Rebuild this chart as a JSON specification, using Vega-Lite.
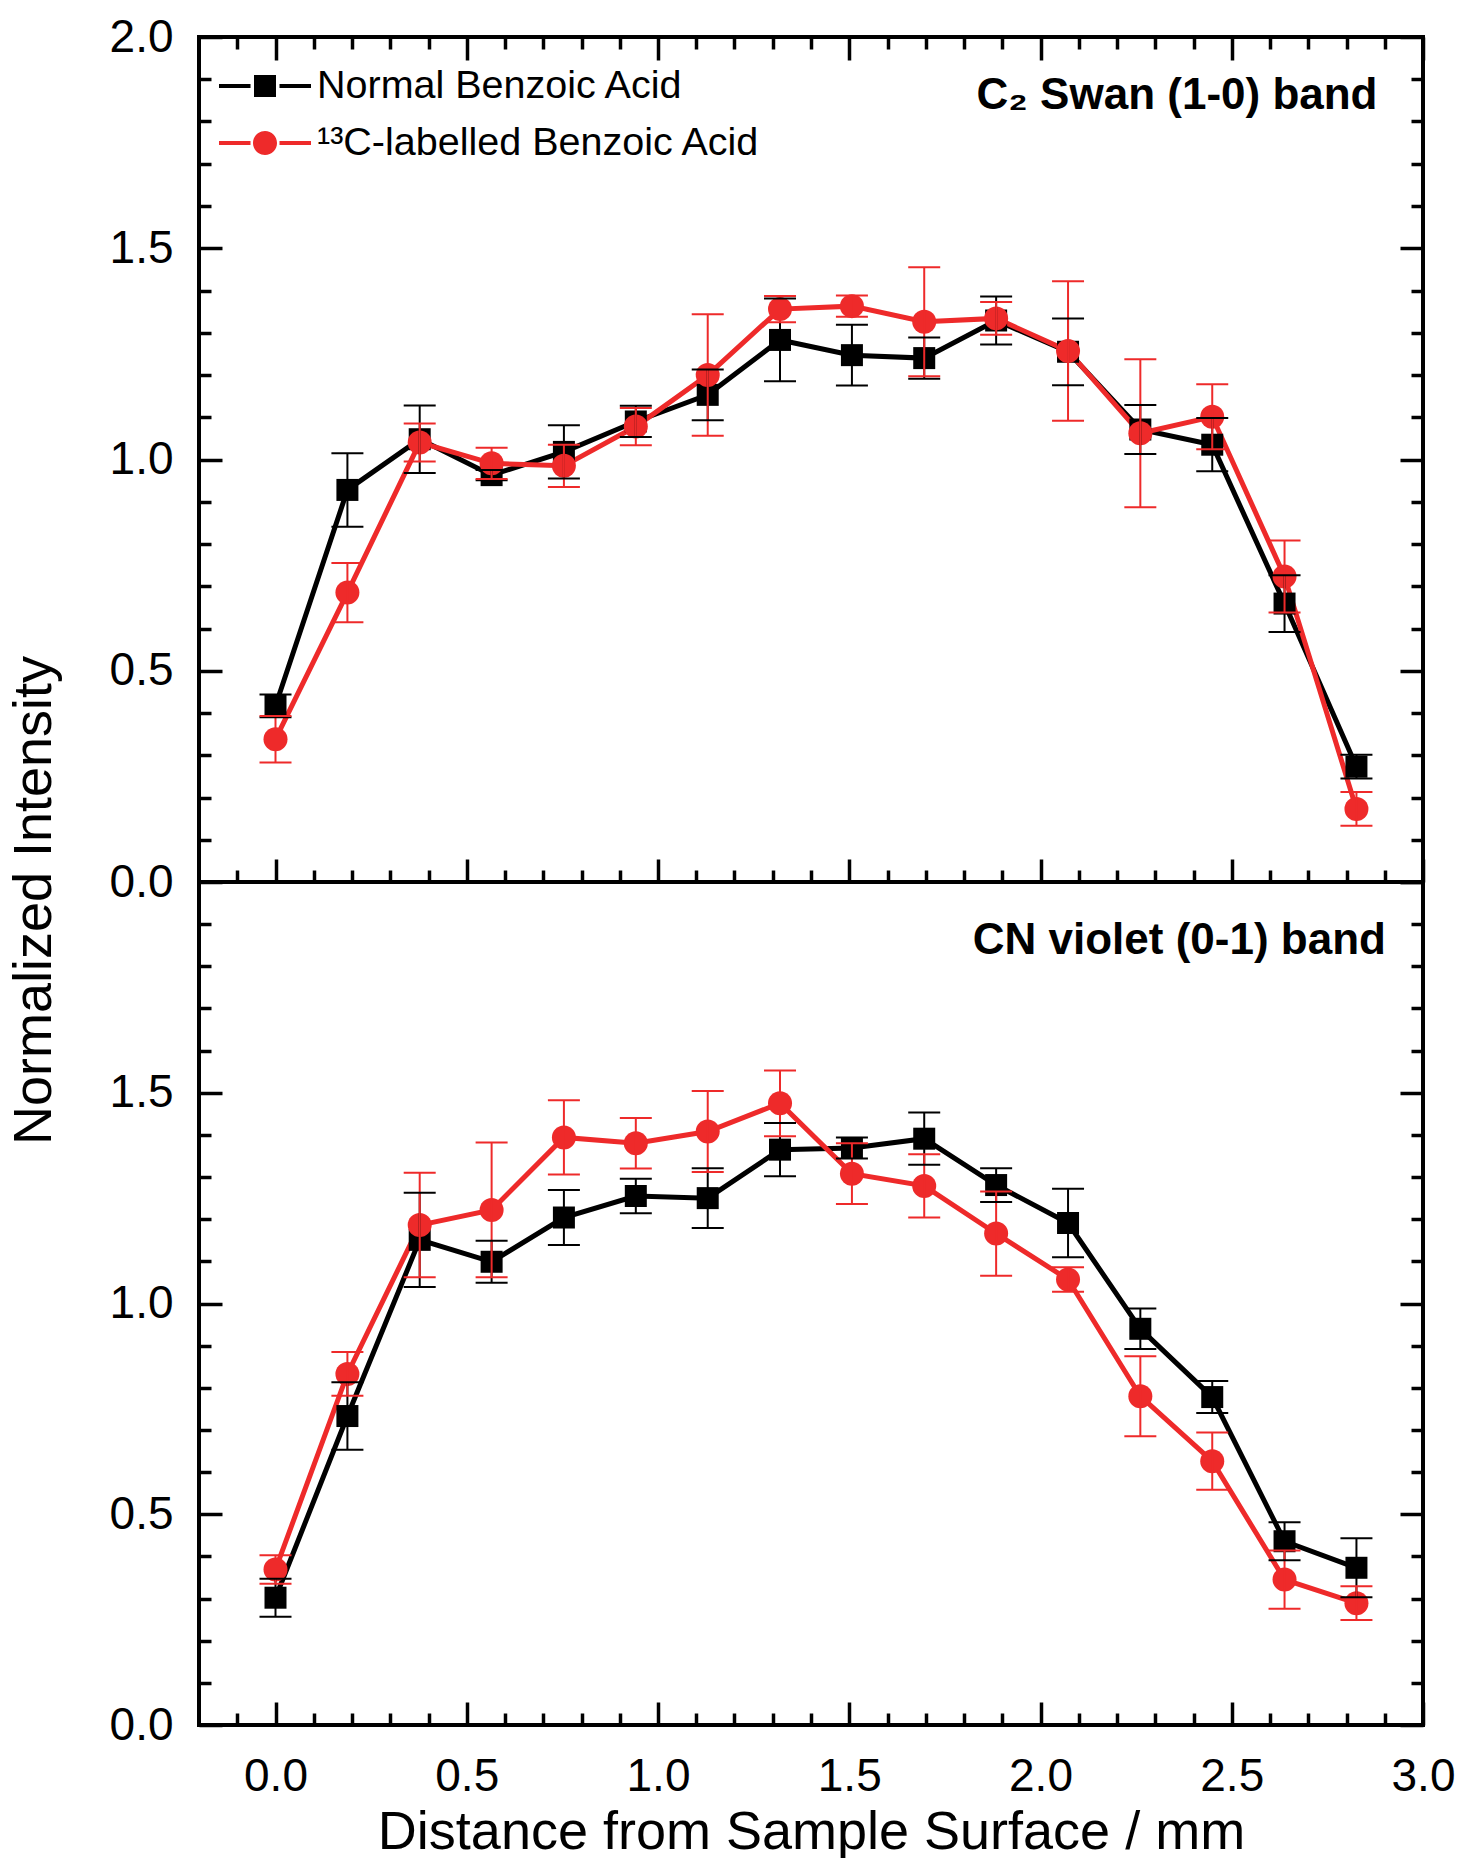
{
  "$schema": "https://vega.github.io/schema/vega-lite/v6.json",
  "padding": {"left": 5, "top": 12, "right": 36, "bottom": 2},
  "spacing": 0,
  "bounds": "flush",
  "datasets": {
    "main": [
      {"p":"C2","s":"N","x":0.000,"y":0.417,"lo":0.390,"hi":0.444},
      {"p":"C2","s":"N","x":0.188,"y":0.928,"lo":0.841,"hi":1.015},
      {"p":"C2","s":"N","x":0.377,"y":1.048,"lo":0.968,"hi":1.128},
      {"p":"C2","s":"N","x":0.565,"y":0.963,"lo":0.951,"hi":0.975},
      {"p":"C2","s":"N","x":0.754,"y":1.018,"lo":0.955,"hi":1.081},
      {"p":"C2","s":"N","x":0.942,"y":1.090,"lo":1.053,"hi":1.127},
      {"p":"C2","s":"N","x":1.130,"y":1.153,"lo":1.093,"hi":1.213},
      {"p":"C2","s":"N","x":1.319,"y":1.283,"lo":1.185,"hi":1.381},
      {"p":"C2","s":"N","x":1.507,"y":1.247,"lo":1.175,"hi":1.319},
      {"p":"C2","s":"N","x":1.696,"y":1.240,"lo":1.191,"hi":1.289},
      {"p":"C2","s":"N","x":1.884,"y":1.329,"lo":1.272,"hi":1.386},
      {"p":"C2","s":"N","x":2.072,"y":1.255,"lo":1.176,"hi":1.334},
      {"p":"C2","s":"N","x":2.261,"y":1.071,"lo":1.013,"hi":1.129},
      {"p":"C2","s":"N","x":2.449,"y":1.035,"lo":0.972,"hi":1.098},
      {"p":"C2","s":"N","x":2.638,"y":0.659,"lo":0.592,"hi":0.726},
      {"p":"C2","s":"N","x":2.826,"y":0.273,"lo":0.245,"hi":0.301},
      {"p":"C2","s":"L","x":0.000,"y":0.338,"lo":0.283,"hi":0.393},
      {"p":"C2","s":"L","x":0.188,"y":0.685,"lo":0.615,"hi":0.755},
      {"p":"C2","s":"L","x":0.377,"y":1.040,"lo":0.995,"hi":1.085},
      {"p":"C2","s":"L","x":0.565,"y":0.991,"lo":0.954,"hi":1.028},
      {"p":"C2","s":"L","x":0.754,"y":0.985,"lo":0.935,"hi":1.035},
      {"p":"C2","s":"L","x":0.942,"y":1.078,"lo":1.034,"hi":1.122},
      {"p":"C2","s":"L","x":1.130,"y":1.200,"lo":1.056,"hi":1.344},
      {"p":"C2","s":"L","x":1.319,"y":1.356,"lo":1.325,"hi":1.387},
      {"p":"C2","s":"L","x":1.507,"y":1.363,"lo":1.338,"hi":1.388},
      {"p":"C2","s":"L","x":1.696,"y":1.326,"lo":1.197,"hi":1.455},
      {"p":"C2","s":"L","x":1.884,"y":1.334,"lo":1.295,"hi":1.373},
      {"p":"C2","s":"L","x":2.072,"y":1.257,"lo":1.092,"hi":1.422},
      {"p":"C2","s":"L","x":2.261,"y":1.062,"lo":0.887,"hi":1.237},
      {"p":"C2","s":"L","x":2.449,"y":1.101,"lo":1.024,"hi":1.178},
      {"p":"C2","s":"L","x":2.638,"y":0.723,"lo":0.638,"hi":0.808},
      {"p":"C2","s":"L","x":2.826,"y":0.173,"lo":0.133,"hi":0.213},
      {"p":"CN","s":"N","x":0.000,"y":0.302,"lo":0.257,"hi":0.347},
      {"p":"CN","s":"N","x":0.188,"y":0.733,"lo":0.653,"hi":0.813},
      {"p":"CN","s":"N","x":0.377,"y":1.151,"lo":1.039,"hi":1.263},
      {"p":"CN","s":"N","x":0.565,"y":1.099,"lo":1.049,"hi":1.149},
      {"p":"CN","s":"N","x":0.754,"y":1.204,"lo":1.139,"hi":1.269},
      {"p":"CN","s":"N","x":0.942,"y":1.255,"lo":1.214,"hi":1.296},
      {"p":"CN","s":"N","x":1.130,"y":1.250,"lo":1.179,"hi":1.321},
      {"p":"CN","s":"N","x":1.319,"y":1.365,"lo":1.302,"hi":1.428},
      {"p":"CN","s":"N","x":1.507,"y":1.369,"lo":1.344,"hi":1.394},
      {"p":"CN","s":"N","x":1.696,"y":1.391,"lo":1.329,"hi":1.453},
      {"p":"CN","s":"N","x":1.884,"y":1.281,"lo":1.241,"hi":1.321},
      {"p":"CN","s":"N","x":2.072,"y":1.191,"lo":1.110,"hi":1.272},
      {"p":"CN","s":"N","x":2.261,"y":0.940,"lo":0.892,"hi":0.988},
      {"p":"CN","s":"N","x":2.449,"y":0.778,"lo":0.740,"hi":0.816},
      {"p":"CN","s":"N","x":2.638,"y":0.436,"lo":0.391,"hi":0.481},
      {"p":"CN","s":"N","x":2.826,"y":0.373,"lo":0.303,"hi":0.443},
      {"p":"CN","s":"L","x":0.000,"y":0.369,"lo":0.335,"hi":0.403},
      {"p":"CN","s":"L","x":0.188,"y":0.833,"lo":0.781,"hi":0.885},
      {"p":"CN","s":"L","x":0.377,"y":1.186,"lo":1.062,"hi":1.310},
      {"p":"CN","s":"L","x":0.565,"y":1.222,"lo":1.062,"hi":1.382},
      {"p":"CN","s":"L","x":0.754,"y":1.394,"lo":1.306,"hi":1.482},
      {"p":"CN","s":"L","x":0.942,"y":1.380,"lo":1.320,"hi":1.440},
      {"p":"CN","s":"L","x":1.130,"y":1.408,"lo":1.312,"hi":1.504},
      {"p":"CN","s":"L","x":1.319,"y":1.475,"lo":1.397,"hi":1.553},
      {"p":"CN","s":"L","x":1.507,"y":1.308,"lo":1.236,"hi":1.380},
      {"p":"CN","s":"L","x":1.696,"y":1.279,"lo":1.204,"hi":1.354},
      {"p":"CN","s":"L","x":1.884,"y":1.166,"lo":1.066,"hi":1.266},
      {"p":"CN","s":"L","x":2.072,"y":1.057,"lo":1.028,"hi":1.086},
      {"p":"CN","s":"L","x":2.261,"y":0.780,"lo":0.685,"hi":0.875},
      {"p":"CN","s":"L","x":2.449,"y":0.626,"lo":0.558,"hi":0.694},
      {"p":"CN","s":"L","x":2.638,"y":0.345,"lo":0.276,"hi":0.414},
      {"p":"CN","s":"L","x":2.826,"y":0.289,"lo":0.249,"hi":0.329}
    ],
    "labels": [
      {"p":"C2","t":"C₂ Swan (1-0) band","x":2.881,"y":1.83},
      {"p":"CN","t":"CN violet (0-1) band","x":2.903,"y":1.83}
    ]
  },
  "resolve": {
    "scale": {"color": "independent", "shape": "independent"},
    "legend": {"color": "independent", "shape": "independent"}
  },
  "vconcat": [
    {
      "width": 1224,
      "height": 845,
      "data": {"name": "main"},
      "transform": [{"filter": "datum.p == 'C2'"}],
      "resolve": {"axis": {"x": "independent", "y": "independent"}},
      "layer": [
        {
          "transform": [{"filter": "datum.x < -5"}],
          "mark": {"type": "point", "filled": true, "size": 2116, "opacity": 1, "strokeWidth": 0},
          "encoding": {
            "x": {"field": "x", "type": "quantitative", "scale": {"domain": [-0.2, 3.0], "nice": false, "zero": false}, "axis": null},
            "y": {"field": "y", "type": "quantitative", "scale": {"domain": [0, 2], "nice": false, "zero": false}, "axis": null},
            "color": {"field": "s", "type": "nominal", "scale": {"domain": ["N", "L"], "range": ["#000000", "#ee2a2a"]},
              "legend": {"orient": "none", "legendX": 43, "legendY": 26, "title": null, "padding": 0,
                "labelExpr": "datum.value == 'N' ? 'Normal Benzoic Acid' : '¹³C-labelled Benzoic Acid'",
                "labelFont": "Liberation Sans", "labelFontSize": 39.5, "labelColor": "black", "labelOffset": 29,
                "symbolSize": 2116, "symbolStrokeWidth": 0, "symbolOpacity": 1, "rowPadding": 14, "labelLimit": 800}},
            "shape": {"field": "s", "type": "nominal",
              "scale": {"domain": ["N", "L"], "range": [
                "M-2,-0.087H-0.63V0.087H-2Z M0.63,-0.087H2V0.087H0.63Z M-0.478,-0.478H0.478V0.478H-0.478Z",
                "M-2,-0.087H-0.63V0.087H-2Z M0.63,-0.087H2V0.087H0.63Z M-0.522,0A0.522,0.522 0 1,0 0.522,0A0.522,0.522 0 1,0 -0.522,0Z"]},
              "legend": {"orient": "none", "legendX": 43, "legendY": 26, "title": null, "padding": 0,
                "labelExpr": "datum.value == 'N' ? 'Normal Benzoic Acid' : '¹³C-labelled Benzoic Acid'",
                "labelFont": "Liberation Sans", "labelFontSize": 39.5, "labelColor": "black", "labelOffset": 29,
                "symbolSize": 2116, "symbolStrokeWidth": 0, "symbolOpacity": 1, "rowPadding": 14, "labelLimit": 800}}
          }
        },
        {
          "mark": {"type": "line", "strokeWidth": 5},
          "encoding": {
            "x": {"field": "x", "type": "quantitative", "scale": {"domain": [-0.2, 3.0], "nice": false, "zero": false},
              "axis": {"orient": "bottom", "values": [0, 0.5, 1, 1.5, 2, 2.5, 3], "tickSize": -23, "labels": false, "title": null}},
            "y": {"field": "y", "type": "quantitative", "scale": {"domain": [0, 2], "nice": false, "zero": false},
              "axis": {"orient": "left", "values": [0, 0.5, 1, 1.5, 2], "tickSize": -23, "labelPadding": 49, "format": ".1f",
                "title": "Normalized Intensity", "titleFontSize": 54, "titleX": -149, "titleY": 863, "titleAngle": 270, "titleBaseline": "alphabetic", "titleAlign": "center"}},
            "color": {"field": "s", "type": "nominal", "scale": {"domain": ["N", "L"], "range": ["#000000", "#ee2a2a"]}}
          }
        },
        {
          "transform": [{"filter": "datum.s == 'N'"}],
          "mark": {"type": "point", "shape": "square", "filled": true, "size": 484, "opacity": 1, "color": "#000000", "strokeWidth": 0},
          "encoding": {
            "x": {"field": "x", "type": "quantitative", "scale": {"domain": [-0.2, 3.0], "nice": false, "zero": false},
              "axis": {"orient": "bottom", "values": [-0.1, 0.1, 0.2, 0.3, 0.4, 0.6, 0.7, 0.8, 0.9, 1.1, 1.2, 1.3, 1.4, 1.6, 1.7, 1.8, 1.9, 2.1, 2.2, 2.3, 2.4, 2.6, 2.7, 2.8, 2.9], "tickSize": -12, "labels": false, "title": null}},
            "y": {"field": "y", "type": "quantitative", "scale": {"domain": [0, 2], "nice": false, "zero": false},
              "axis": {"orient": "left", "values": [0.1, 0.2, 0.3, 0.4, 0.6, 0.7, 0.8, 0.9, 1.1, 1.2, 1.3, 1.4, 1.6, 1.7, 1.8, 1.9], "tickSize": -12, "labels": false, "title": null}}
          }
        },
        {
          "transform": [{"filter": "datum.s == 'L'"}],
          "mark": {"type": "point", "shape": "circle", "filled": true, "size": 576, "opacity": 1, "color": "#ee2a2a", "strokeWidth": 0},
          "encoding": {
            "x": {"field": "x", "type": "quantitative", "scale": {"domain": [-0.2, 3.0], "nice": false, "zero": false},
              "axis": {"orient": "top", "values": [0, 0.5, 1, 1.5, 2, 2.5, 3], "tickSize": -23, "labels": false, "title": null}},
            "y": {"field": "y", "type": "quantitative", "scale": {"domain": [0, 2], "nice": false, "zero": false},
              "axis": {"orient": "right", "values": [0, 0.5, 1, 1.5, 2], "tickSize": -23, "labels": false, "title": null}}
          }
        },
        {
          "mark": {"type": "rule", "strokeWidth": 2},
          "encoding": {
            "x": {"field": "x", "type": "quantitative", "scale": {"domain": [-0.2, 3.0], "nice": false, "zero": false},
              "axis": {"orient": "top", "values": [-0.1, 0.1, 0.2, 0.3, 0.4, 0.6, 0.7, 0.8, 0.9, 1.1, 1.2, 1.3, 1.4, 1.6, 1.7, 1.8, 1.9, 2.1, 2.2, 2.3, 2.4, 2.6, 2.7, 2.8, 2.9], "tickSize": -12, "labels": false, "title": null}},
            "y": {"field": "lo", "type": "quantitative", "scale": {"domain": [0, 2], "nice": false, "zero": false},
              "axis": {"orient": "right", "values": [0.1, 0.2, 0.3, 0.4, 0.6, 0.7, 0.8, 0.9, 1.1, 1.2, 1.3, 1.4, 1.6, 1.7, 1.8, 1.9], "tickSize": -12, "labels": false, "title": null}},
            "y2": {"field": "hi"},
            "color": {"field": "s", "type": "nominal", "scale": {"domain": ["N", "L"], "range": ["#000000", "#ee2a2a"]}}
          }
        },
        {
          "mark": {"type": "tick", "orient": "horizontal", "size": 32, "thickness": 2, "opacity": 1},
          "encoding": {
            "x": {"field": "x", "type": "quantitative", "scale": {"domain": [-0.2, 3.0], "nice": false, "zero": false}, "axis": null},
            "y": {"field": "lo", "type": "quantitative", "scale": {"domain": [0, 2], "nice": false, "zero": false}, "axis": null},
            "color": {"field": "s", "type": "nominal", "scale": {"domain": ["N", "L"], "range": ["#000000", "#ee2a2a"]}}
          }
        },
        {
          "mark": {"type": "tick", "orient": "horizontal", "size": 32, "thickness": 2, "opacity": 1},
          "encoding": {
            "x": {"field": "x", "type": "quantitative", "scale": {"domain": [-0.2, 3.0], "nice": false, "zero": false}, "axis": null},
            "y": {"field": "hi", "type": "quantitative", "scale": {"domain": [0, 2], "nice": false, "zero": false}, "axis": null},
            "color": {"field": "s", "type": "nominal", "scale": {"domain": ["N", "L"], "range": ["#000000", "#ee2a2a"]}}
          }
        },
        {
          "data": {"name": "labels"},
          "transform": [{"filter": "datum.p == 'C2'"}],
          "mark": {"type": "text", "align": "right", "baseline": "alphabetic", "font": "Liberation Sans", "fontSize": 44, "fontWeight": "bold", "color": "#000000"},
          "encoding": {
            "x": {"field": "x", "type": "quantitative", "scale": {"domain": [-0.2, 3.0], "nice": false, "zero": false}, "axis": null},
            "y": {"field": "y", "type": "quantitative", "scale": {"domain": [0, 2], "nice": false, "zero": false}, "axis": null},
            "text": {"field": "t"}
          }
        }
      ]
    },
    {
      "width": 1224,
      "height": 843,
      "data": {"name": "main"},
      "transform": [{"filter": "datum.p == 'CN'"}],
      "resolve": {"axis": {"x": "independent", "y": "independent"}},
      "layer": [
        {
          "mark": {"type": "line", "strokeWidth": 5},
          "encoding": {
            "x": {"field": "x", "type": "quantitative", "scale": {"domain": [-0.2, 3.0], "nice": false, "zero": false},
              "axis": {"orient": "bottom", "values": [0, 0.5, 1, 1.5, 2, 2.5, 3], "tickSize": -23, "labelPadding": 52, "format": ".1f",
                "title": "Distance from Sample Surface / mm", "titleFontSize": 54, "titleY": 123, "titleBaseline": "alphabetic"}},
            "y": {"field": "y", "type": "quantitative", "scale": {"domain": [0, 2], "nice": false, "zero": false},
              "axis": {"orient": "left", "values": [0, 0.5, 1, 1.5], "tickSize": -23, "labelPadding": 49, "format": ".1f", "title": null}},
            "color": {"field": "s", "type": "nominal", "scale": {"domain": ["N", "L"], "range": ["#000000", "#ee2a2a"]}, "legend": null}
          }
        },
        {
          "transform": [{"filter": "datum.s == 'N'"}],
          "mark": {"type": "point", "shape": "square", "filled": true, "size": 484, "opacity": 1, "color": "#000000", "strokeWidth": 0},
          "encoding": {
            "x": {"field": "x", "type": "quantitative", "scale": {"domain": [-0.2, 3.0], "nice": false, "zero": false},
              "axis": {"orient": "bottom", "values": [-0.1, 0.1, 0.2, 0.3, 0.4, 0.6, 0.7, 0.8, 0.9, 1.1, 1.2, 1.3, 1.4, 1.6, 1.7, 1.8, 1.9, 2.1, 2.2, 2.3, 2.4, 2.6, 2.7, 2.8, 2.9], "tickSize": -12, "labels": false, "title": null}},
            "y": {"field": "y", "type": "quantitative", "scale": {"domain": [0, 2], "nice": false, "zero": false},
              "axis": {"orient": "left", "values": [0.1, 0.2, 0.3, 0.4, 0.6, 0.7, 0.8, 0.9, 1.1, 1.2, 1.3, 1.4, 1.6, 1.7, 1.8, 1.9], "tickSize": -12, "labels": false, "title": null}}
          }
        },
        {
          "transform": [{"filter": "datum.s == 'L'"}],
          "mark": {"type": "point", "shape": "circle", "filled": true, "size": 576, "opacity": 1, "color": "#ee2a2a", "strokeWidth": 0},
          "encoding": {
            "x": {"field": "x", "type": "quantitative", "scale": {"domain": [-0.2, 3.0], "nice": false, "zero": false}, "axis": null},
            "y": {"field": "y", "type": "quantitative", "scale": {"domain": [0, 2], "nice": false, "zero": false},
              "axis": {"orient": "right", "values": [0, 0.5, 1, 1.5, 2], "tickSize": -23, "labels": false, "title": null}}
          }
        },
        {
          "mark": {"type": "rule", "strokeWidth": 2},
          "encoding": {
            "x": {"field": "x", "type": "quantitative", "scale": {"domain": [-0.2, 3.0], "nice": false, "zero": false}, "axis": null},
            "y": {"field": "lo", "type": "quantitative", "scale": {"domain": [0, 2], "nice": false, "zero": false},
              "axis": {"orient": "right", "values": [0.1, 0.2, 0.3, 0.4, 0.6, 0.7, 0.8, 0.9, 1.1, 1.2, 1.3, 1.4, 1.6, 1.7, 1.8, 1.9], "tickSize": -12, "labels": false, "title": null}},
            "y2": {"field": "hi"},
            "color": {"field": "s", "type": "nominal", "scale": {"domain": ["N", "L"], "range": ["#000000", "#ee2a2a"]}, "legend": null}
          }
        },
        {
          "mark": {"type": "tick", "orient": "horizontal", "size": 32, "thickness": 2, "opacity": 1},
          "encoding": {
            "x": {"field": "x", "type": "quantitative", "scale": {"domain": [-0.2, 3.0], "nice": false, "zero": false}, "axis": null},
            "y": {"field": "lo", "type": "quantitative", "scale": {"domain": [0, 2], "nice": false, "zero": false}, "axis": null},
            "color": {"field": "s", "type": "nominal", "scale": {"domain": ["N", "L"], "range": ["#000000", "#ee2a2a"]}, "legend": null}
          }
        },
        {
          "mark": {"type": "tick", "orient": "horizontal", "size": 32, "thickness": 2, "opacity": 1},
          "encoding": {
            "x": {"field": "x", "type": "quantitative", "scale": {"domain": [-0.2, 3.0], "nice": false, "zero": false}, "axis": null},
            "y": {"field": "hi", "type": "quantitative", "scale": {"domain": [0, 2], "nice": false, "zero": false}, "axis": null},
            "color": {"field": "s", "type": "nominal", "scale": {"domain": ["N", "L"], "range": ["#000000", "#ee2a2a"]}, "legend": null}
          }
        },
        {
          "data": {"name": "labels"},
          "transform": [{"filter": "datum.p == 'CN'"}],
          "mark": {"type": "text", "align": "right", "baseline": "alphabetic", "font": "Liberation Sans", "fontSize": 44, "fontWeight": "bold", "color": "#000000"},
          "encoding": {
            "x": {"field": "x", "type": "quantitative", "scale": {"domain": [-0.2, 3.0], "nice": false, "zero": false}, "axis": null},
            "y": {"field": "y", "type": "quantitative", "scale": {"domain": [0, 2], "nice": false, "zero": false}, "axis": null},
            "text": {"field": "t"}
          }
        }
      ]
    }
  ],
  "config": {
    "background": "white",
    "font": "Liberation Sans",
    "view": {"stroke": "#000000", "strokeWidth": 4},
    "axis": {
      "domain": false, "grid": false,
      "tickColor": "#000000", "tickWidth": 3.5,
      "labelFont": "Liberation Sans", "labelFontSize": 46, "labelColor": "#000000",
      "labelFlush": false, "labelOverlap": false, "labelBound": false,
      "titleFont": "Liberation Sans", "titleFontSize": 52, "titleFontWeight": "normal", "titleColor": "#000000"
    }
  }
}
